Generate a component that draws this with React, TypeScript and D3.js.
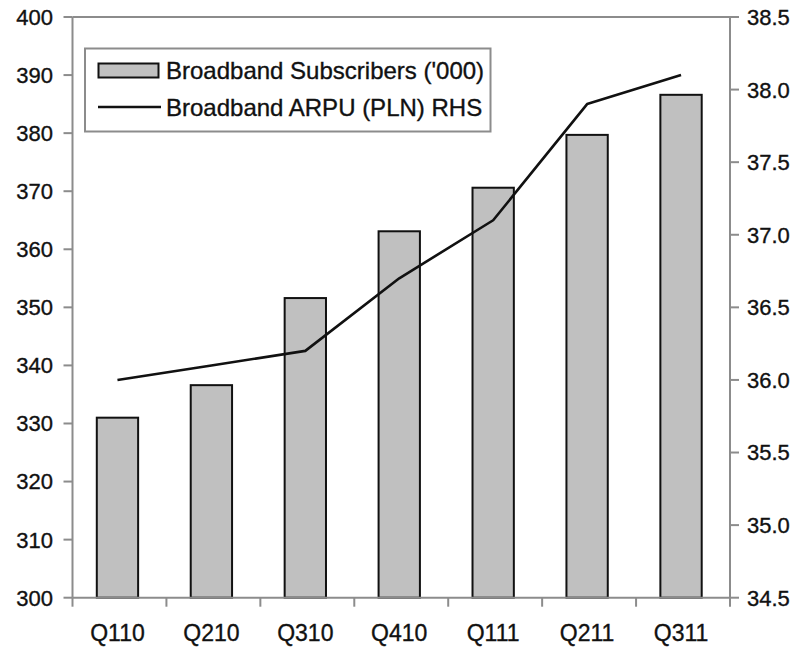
import React from "react";
import * as d3 from "d3";

const categories = ["Q110", "Q210", "Q310", "Q410", "Q111", "Q211", "Q311"];
const subscribers = [331, 336.6, 351.6, 363.1, 370.6, 379.7, 386.6];
const arpu = [36.0, 36.1, 36.2, 36.7, 37.1, 37.9, 38.1];
const leftTicks = [300, 310, 320, 330, 340, 350, 360, 370, 380, 390, 400];
const rightTicks = [34.5, 35.0, 35.5, 36.0, 36.5, 37.0, 37.5, 38.0, 38.5];
const legendLabels = ["Broadband Subscribers ('000)", "Broadband ARPU (PLN) RHS"];

export default function App() {
  const W = 796, H = 649;
  const left = 72.5, right = 730, top = 17, bottom = 597.7;
  const axisColor = "#8c8c8c";
  const textColor = "#111";
  const font = "Liberation Sans, Arial, sans-serif";
  const tStroke = { stroke: textColor, strokeWidth: 0.35 };

  const x = d3.scaleBand<string>().domain(categories).range([left, right]).paddingInner(0.56).paddingOuter(0.28);
  const step = (right - left) / categories.length;
  const yL = d3.scaleLinear().domain([300, 400]).range([bottom, top]);
  const yR = d3.scaleLinear().domain([34.5, 38.5]).range([bottom, top]);
  const shift = -2;
  const cx = (c: string) => (x(c) as number) + x.bandwidth() / 2 + shift;

  const line = d3.line<number>().x((_, i) => cx(categories[i])).y((d) => yR(d));

  return (
    <svg width={W} height={H} style={{ position: "absolute", left: 0, top: 0, background: "#fff" }}>
      {subscribers.map((v, i) => (
        <rect key={i} x={(x(categories[i]) as number) + shift} y={yL(v)} width={x.bandwidth()} height={yL(300) - yL(v)}
          fill="#c0c0c0" stroke="#111" strokeWidth={2} />
      ))}
      <line x1={left} x2={right} y1={top} y2={top} stroke={axisColor} strokeWidth={2} />
      <line x1={left} x2={left} y1={top} y2={bottom} stroke={axisColor} strokeWidth={2} />
      <line x1={right} x2={right} y1={top} y2={bottom} stroke={axisColor} strokeWidth={2} />
      <line x1={left} x2={right} y1={bottom} y2={bottom} stroke={axisColor} strokeWidth={2} />
      {leftTicks.map((t) => (
        <g key={"l" + t}>
          <line x1={left - 9} x2={left} y1={yL(t)} y2={yL(t)} stroke={axisColor} strokeWidth={2} />
          <text x={53} y={yL(t)} dy="0.36em" textAnchor="end" fontFamily={font} fontSize={22} fill={textColor} {...tStroke}>{t}</text>
        </g>
      ))}
      {rightTicks.map((t) => (
        <g key={"r" + t}>
          <line x1={right} x2={right + 9} y1={yR(t)} y2={yR(t)} stroke={axisColor} strokeWidth={2} />
          <text x={747} y={yR(t)} dy="0.36em" textAnchor="start" fontFamily={font} fontSize={22} fill={textColor} {...tStroke}>{t.toFixed(1)}</text>
        </g>
      ))}
      {d3.range(categories.length + 1).map((i) => (
        <line key={"c" + i} x1={left + i * step} x2={left + i * step} y1={bottom} y2={bottom + 9} stroke={axisColor} strokeWidth={2} />
      ))}
      {categories.map((c) => (
        <text key={c} x={cx(c)} y={641} textAnchor="middle" fontFamily={font} fontSize={23} fill={textColor} {...tStroke}>{c}</text>
      ))}
      <path d={line(arpu) || ""} fill="none" stroke="#111" strokeWidth={2.6} strokeLinejoin="round" />
      <rect x={85} y={48.5} width={405.5} height={83} fill="#fff" stroke={axisColor} strokeWidth={2} />
      <rect x={98.5} y={63.5} width={60} height={14} fill="#c0c0c0" stroke="#111" strokeWidth={2} />
      <text x={166} y={70.5} dy="0.36em" fontFamily={font} fontSize={24} fill={textColor} {...tStroke}>{legendLabels[0]}</text>
      <line x1={98} x2={161} y1={107} y2={107} stroke="#111" strokeWidth={2.4} />
      <text x={166} y={107} dy="0.36em" fontFamily={font} fontSize={24} fill={textColor} {...tStroke}>{legendLabels[1]}</text>
    </svg>
  );
}
